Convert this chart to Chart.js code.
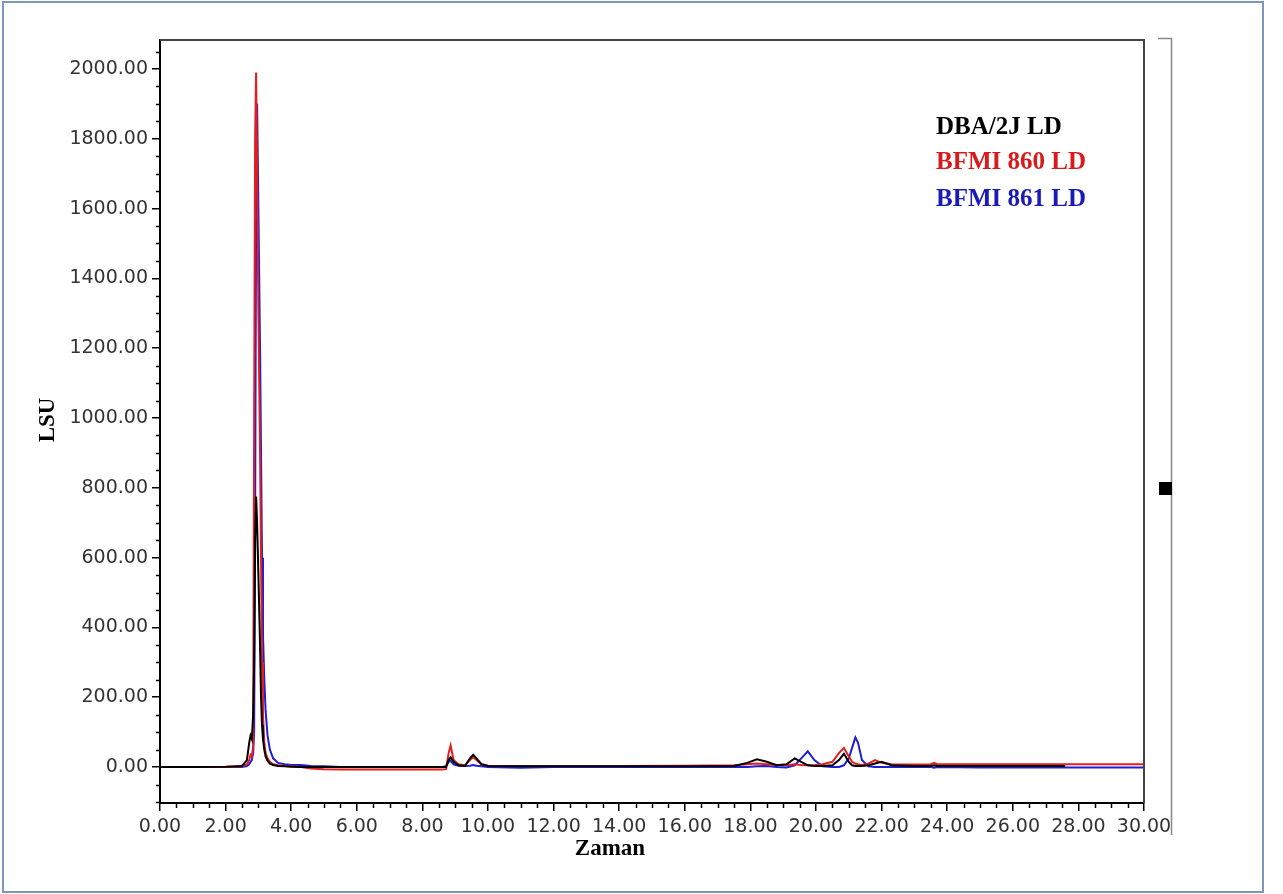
<!DOCTYPE html>
<html>
<head>
<meta charset="utf-8">
<title>LSU - Zaman</title>
<script src="https://cdn.jsdelivr.net/npm/chart.js@4.4.1/dist/chart.umd.min.js"></script>
<style>
  html, body { margin: 0; padding: 0; background: #fff; }
  canvas { display: block; }
</style>
</head>
<body>
<canvas id="chromChart" width="1283" height="894"></canvas>
<script>
// retention time (min), shared by all three traces
const times = [
  0, 1, 2, 2.5, 2.65, 2.72, 2.76, 2.8, 2.84, 2.87,
  2.9, 2.93, 2.96, 3.0, 3.05, 3.08, 3.11, 3.14, 3.18, 3.22,
  3.28, 3.35, 3.45, 3.6, 3.8, 4.0, 4.3, 4.6, 5.0, 5.5,
  6.0, 7.0, 8.0, 8.6, 8.72, 8.8, 8.86, 8.95, 9.1, 9.3,
  9.45, 9.55, 9.65, 9.8, 10.0, 11.0, 12.0, 14.0, 16.0, 17.5,
  17.9, 18.2, 18.5, 18.8, 19.1, 19.35, 19.55, 19.75, 19.95, 20.2,
  20.5, 20.7, 20.85, 21.0, 21.1, 21.2, 21.28, 21.4, 21.6, 21.8,
  22.0, 22.3, 23.0, 23.5, 23.6, 23.7, 25.0, 27.0, 27.6, 28.0,
  30.0
];

const dba = [
  0, 0, 1, 3, 20, 70, 90, 80, 150, 300,
  650, 775, 700, 550, 350, 200, 120, 80, 50, 30,
  18, 10, 6, 3, 2, 1, 0, 0, 0, 0,
  0, 0, 0, 0, 0, 20, 28, 15, 5, 3,
  25, 35, 25, 8, 3, 2, 2, 2, 2, 3,
  12, 22, 15, 5, 8, 25, 15, 5, 3, 3,
  5, 20, 38, 15, 5, 3, 3, 3, 5, 10,
  15, 5, 3, 3, 5, 3, 3, 3, 3, null,
  null
];

const bfmi860 = [
  0, 0, 0, 2, 8, 20, 35, 30, 60, 1000,
  1800, 1990, 1700, 1300, 900, 600, 300, 150, 70, 40,
  25, 15, 8, 5, 3, 2, 0, -4, -6, -7,
  -7, -7, -7, -7, -6, 40, 62, 20, 8, 5,
  20, 28, 20, 8, 4, 3, 3, 3, 4, 5,
  8, 10, 8, 6, 5, 8, 6, 5, 5, 8,
  15, 40, 55, 30, 15, 10, 8, 6, 10, 20,
  12, 8, 7, 8, 12, 8, 8, 8, 8, 8,
  8
];

const bfmi861 = [
  0, 0, 0, 0, 3, 8, 15, 20, 40, 100,
  700, 1600, 1900, 1600, 1200, 900, 600, 380, 250, 160,
  90, 50, 25, 12, 8, 6, 6, 3, 2, 0,
  0, 0, 0, 0, 2, 15, 18, 8, 4, 3,
  4, 6, 4, 2, 0, -2, 0, 0, 0, 0,
  0, 2, 3, 0, -1, 5, 25, 45, 20, 2,
  0, 0, 5, 25, 55, 85, 70, 20, 2, 0,
  0, 0, 0, 0, -2, 0, -1, -1, -1, -1,
  -1
];

const xTicks = [0, 2, 4, 6, 8, 10, 12, 14, 16, 18, 20, 22, 24, 26, 28, 30];
const yTicks = [0, 200, 400, 600, 800, 1000, 1200, 1400, 1600, 1800, 2000];

const seriesNames = ['DBA/2J LD', 'BFMI 860 LD', 'BFMI 861 LD'];
const seriesColors = ['#000000', '#e41e1e', '#1e1ed8'];
const legendColors = ['#000000', '#d81a1a', '#1a1ab8'];

const tickFont = { family: "'DejaVu Sans', sans-serif", size: 19 };
const serifBold = "'Liberation Serif', 'Times New Roman', serif";

function toPoints(values) {
  return times.map((t, i) => ({ x: t, y: values[i] }));
}

// frame, minor ticks, side marker, legend and axis titles
const decorations = {
  id: 'decorations',
  afterDraw(chart) {
    const ctx = chart.ctx;
    const area = chart.chartArea;
    const xs = chart.scales.x;
    const ys = chart.scales.y;
    ctx.save();

    // outer border
    ctx.strokeStyle = '#7d97bb';
    ctx.lineWidth = 2;
    ctx.strokeRect(3, 2, 1260, 890);

    // top and right edges of plot box
    ctx.strokeStyle = '#444';
    ctx.lineWidth = 2;
    ctx.beginPath();
    ctx.moveTo(area.left, area.top);
    ctx.lineTo(area.right, area.top);
    ctx.lineTo(area.right, area.bottom);
    ctx.stroke();

    // minor ticks
    ctx.strokeStyle = '#000';
    ctx.lineWidth = 1.5;
    ctx.beginPath();
    for (let v = -100; v <= 2050; v += 50) {
      if (v % 200 === 0) continue;
      const y = Math.round(ys.getPixelForValue(v)) + 0.5;
      ctx.moveTo(area.left - 4, y);
      ctx.lineTo(area.left, y);
    }
    for (let v = 0.5; v < 30; v += 0.5) {
      if (v % 2 === 0) continue;
      const x = Math.round(xs.getPixelForValue(v)) + 0.5;
      ctx.moveTo(x, area.bottom);
      ctx.lineTo(x, area.bottom + 5);
    }
    ctx.stroke();

    // side bar with its marker
    ctx.strokeStyle = '#888';
    ctx.lineWidth = 1.5;
    ctx.beginPath();
    ctx.moveTo(1158, 38.5);
    ctx.lineTo(1171.5, 38.5);
    ctx.lineTo(1171.5, 835);
    ctx.stroke();
    ctx.fillStyle = '#000';
    ctx.fillRect(1159, 482, 13, 13);

    // legend
    ctx.font = 'bold 25px ' + serifBold;
    ctx.textAlign = 'left';
    ctx.textBaseline = 'middle';
    const legendY = [128, 163, 200];
    chart.data.datasets.forEach((ds, i) => {
      ctx.fillStyle = legendColors[i];
      ctx.fillText(ds.label, 936, legendY[i]);
    });

    // axis titles
    ctx.fillStyle = '#000';
    ctx.font = 'bold 23px ' + serifBold;
    ctx.textAlign = 'center';
    ctx.fillText('Zaman', 610, 849);
    ctx.translate(48, 420);
    ctx.rotate(-Math.PI / 2);
    ctx.fillText('LSU', 0, 0);

    ctx.restore();
  }
};

const ctx = document.getElementById('chromChart').getContext('2d');

new Chart(ctx, {
  type: 'line',
  data: {
    datasets: [dba, bfmi860, bfmi861].map((vals, i) => ({
      label: seriesNames[i],
      data: toPoints(vals),
      borderColor: seriesColors[i],
      borderWidth: 2,
      pointRadius: 0,
      fill: false,
      tension: 0,
      spanGaps: false
    }))
  },
  options: {
    responsive: false,
    animation: false,
    layout: { padding: { top: 40, right: 139, left: 0, bottom: 0 } },
    plugins: {
      legend: { display: false },
      tooltip: { enabled: false }
    },
    scales: {
      x: {
        type: 'linear',
        min: 0,
        max: 30,
        afterBuildTicks: (scale) => { scale.ticks = xTicks.map(v => ({ value: v })); },
        afterFit: (scale) => { scale.height = 91; },
        ticks: {
          font: tickFont,
          color: '#333',
          padding: 5,
          maxRotation: 0,
          autoSkip: false,
          callback: (v) => Number(v).toFixed(2)
        },
        grid: { drawOnChartArea: false, drawTicks: true, tickLength: 8, color: '#000', lineWidth: 1.5 },
        border: { display: true, color: '#000', width: 2 }
      },
      y: {
        type: 'linear',
        min: -103,
        max: 2083,
        afterBuildTicks: (scale) => { scale.ticks = yTicks.map(v => ({ value: v })); },
        afterFit: (scale) => { scale.width = 160; },
        ticks: {
          font: tickFont,
          color: '#333',
          padding: 4,
          autoSkip: false,
          callback: (v) => Number(v).toFixed(2)
        },
        grid: { drawOnChartArea: false, drawTicks: true, tickLength: 8, color: '#000', lineWidth: 1.5 },
        border: { display: true, color: '#000', width: 2 }
      }
    }
  },
  plugins: [decorations]
});
</script>
</body>
</html>
